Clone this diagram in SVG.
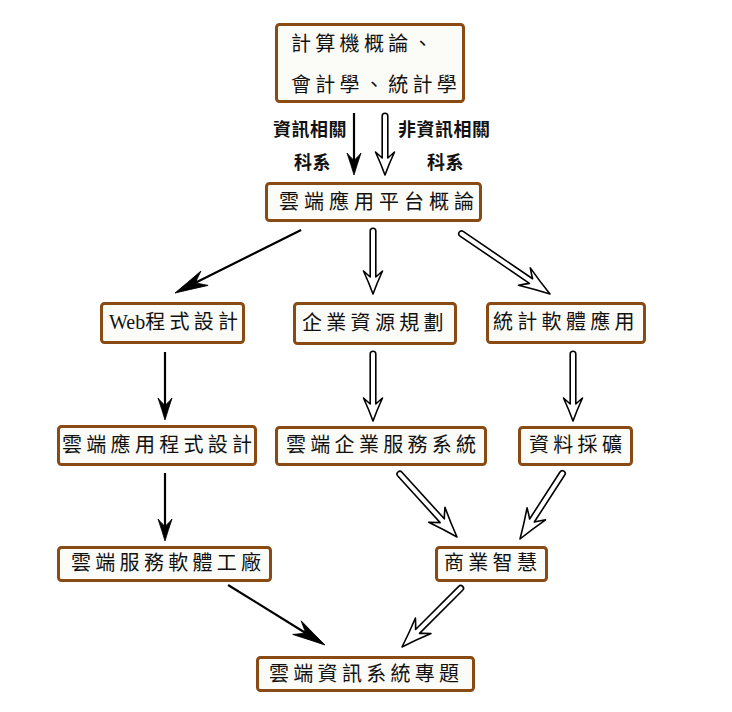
<svg xmlns="http://www.w3.org/2000/svg" width="732" height="712" viewBox="0 0 732 712">
<style>
.box{fill:#fbfbf7;stroke:#8a4a14;stroke-width:3}
.t{font-family:"Noto Sans CJK TC","Noto Sans CJK SC",sans-serif;font-size:20px;fill:#111;letter-spacing:4.3px}
.lbl{font-family:"Noto Sans CJK TC","Noto Sans CJK SC",sans-serif;font-size:18px;font-weight:bold;fill:#111;letter-spacing:0.5px}
.web{font-family:"Liberation Serif",serif;letter-spacing:0}
.sh{stroke:#000;stroke-width:2.2;fill:none}
.sd{fill:#000;stroke:#000;stroke-width:0.8;stroke-linejoin:round}
.ho{fill:#fff;stroke:#000;stroke-width:1.6;stroke-linejoin:round}
</style>
<rect width="732" height="712" fill="#fff"/>
<g id="connectors">
  <!-- solid arrows -->
  <g transform="translate(354,175) rotate(90)"><line class="sh" x1="-62" y1="0" x2="-14" y2="0"/><path class="sd" d="M0,0 Q-10,-3 -22,-7 Q-16,-2 -15,0 Q-16,2 -22,7 Q-10,3 0,0 Z"/></g>
  <g transform="translate(175,293) rotate(153.43)"><line class="sh" x1="-141" y1="0" x2="-20" y2="0"/><path class="sd" d="M0,0 Q-15,-3.5 -33,-8 Q-25,-2 -23,0 Q-25,2 -33,8 Q-15,3.5 0,0 Z"/></g>
  <g transform="translate(165,420) rotate(90)"><line class="sh" x1="-68" y1="0" x2="-14" y2="0"/><path class="sd" d="M0,0 Q-10,-3 -22,-7 Q-16,-2 -15,0 Q-16,2 -22,7 Q-10,3 0,0 Z"/></g>
  <g transform="translate(165,541) rotate(90)"><line class="sh" x1="-68" y1="0" x2="-14" y2="0"/><path class="sd" d="M0,0 Q-10,-3 -22,-7 Q-16,-2 -15,0 Q-16,2 -22,7 Q-10,3 0,0 Z"/></g>
  <g transform="translate(325,645) rotate(31.74)"><line class="sh" x1="-114" y1="0" x2="-20" y2="0"/><path class="sd" d="M0,0 Q-15,-3.5 -33,-8 Q-25,-2 -23,0 Q-25,2 -33,8 Q-15,3.5 0,0 Z"/></g>
  <!-- hollow arrows -->
  <path class="ho" transform="translate(385,175) rotate(90)" d="M-59,-2.8 L-17,-2.8 Q-19,-5 -23,-9.5 Q-11,-4 0,0 Q-11,4 -23,9.5 Q-19,5 -17,2.8 L-59,2.8 A2.8,2.8 0 0 1 -59,-2.8 Z"/>
  <path class="ho" transform="translate(373,294) rotate(90)" d="M-63,-2.8 L-17,-2.8 Q-19,-5 -23,-9.5 Q-11,-4 0,0 Q-11,4 -23,9.5 Q-19,5 -17,2.8 L-63,2.8 A2.8,2.8 0 0 1 -63,-2.8 Z"/>
  <path class="ho" transform="translate(550,294) rotate(34.27)" d="M-107,-2.8 L-23,-2.8 Q-26,-5.5 -31,-10.5 Q-15,-4.5 0,0 Q-15,4.5 -31,10.5 Q-26,5.5 -23,2.8 L-107,2.8 A2.8,2.8 0 0 1 -107,-2.8 Z"/>
  <path class="ho" transform="translate(373,421) rotate(90)" d="M-67,-2.8 L-17,-2.8 Q-19,-5 -23,-9.5 Q-11,-4 0,0 Q-11,4 -23,9.5 Q-19,5 -17,2.8 L-67,2.8 A2.8,2.8 0 0 1 -67,-2.8 Z"/>
  <path class="ho" transform="translate(573,421) rotate(90)" d="M-67,-2.8 L-17,-2.8 Q-19,-5 -23,-9.5 Q-11,-4 0,0 Q-11,4 -23,9.5 Q-19,5 -17,2.8 L-67,2.8 A2.8,2.8 0 0 1 -67,-2.8 Z"/>
  <path class="ho" transform="translate(457,537) rotate(47.77)" d="M-85,-2.8 L-22,-2.8 Q-25,-5.5 -30,-11 Q-14,-4.5 0,0 Q-14,4.5 -30,11 Q-25,5.5 -22,2.8 L-85,2.8 A2.8,2.8 0 0 1 -85,-2.8 Z"/>
  <path class="ho" transform="translate(520,539) rotate(122.91)" d="M-78,-2.8 L-22,-2.8 Q-25,-5.5 -30,-11 Q-14,-4.5 0,0 Q-14,4.5 -30,11 Q-25,5.5 -22,2.8 L-78,2.8 A2.8,2.8 0 0 1 -78,-2.8 Z"/>
  <path class="ho" transform="translate(402,647) rotate(135)" d="M-83,-2.8 L-22,-2.8 Q-25,-5.5 -30,-11 Q-14,-4.5 0,0 Q-14,4.5 -30,11 Q-25,5.5 -22,2.8 L-83,2.8 A2.8,2.8 0 0 1 -83,-2.8 Z"/>
  <!-- labels -->
  <text class="lbl" x="273" y="136">資訊相關</text>
  <text class="lbl" x="294" y="169">科系</text>
  <text class="lbl" x="398" y="136">非資訊相關</text>
  <text class="lbl" x="427" y="169">科系</text>
</g>
<g id="n-intro">
  <rect class="box" x="276.5" y="24.5" width="187" height="77" rx="3"/>
  <text class="t" x="291" y="51">計算機概論、</text>
  <text class="t" x="291" y="92">會計學、統計學</text>
</g>
<g id="n-platform">
  <rect class="box" x="266.5" y="183.5" width="214" height="37" rx="3"/>
  <text class="t" x="279" y="209" style="letter-spacing:5px">雲端應用平台概論</text>
</g>
<g id="n-web">
  <rect class="box" x="101.5" y="303.5" width="142" height="39" rx="3"/>
  <text class="t" x="109" y="329"><tspan class="web">Web</tspan>程式設計</text>
</g>
<g id="n-erp">
  <rect class="box" x="294.5" y="303.5" width="161" height="40" rx="3"/>
  <text class="t" x="302" y="330">企業資源規劃</text>
</g>
<g id="n-stat">
  <rect class="box" x="487.5" y="303.5" width="157" height="39" rx="3"/>
  <text class="t" x="493" y="329">統計軟體應用</text>
</g>
<g id="n-cloudapp">
  <rect class="box" x="58.5" y="426.5" width="197" height="38" rx="3"/>
  <text class="t" x="62" y="452">雲端應用程式設計</text>
</g>
<g id="n-cloudent">
  <rect class="box" x="276.5" y="427.5" width="209" height="37" rx="3"/>
  <text class="t" x="286" y="452">雲端企業服務系統</text>
</g>
<g id="n-mining">
  <rect class="box" x="519.5" y="427.5" width="112" height="37" rx="3"/>
  <text class="t" x="529" y="452">資料採礦</text>
</g>
<g id="n-factory">
  <rect class="box" x="58.5" y="547.5" width="212" height="33" rx="3"/>
  <text class="t" x="71" y="570">雲端服務軟體工廠</text>
</g>
<g id="n-bi">
  <rect class="box" x="436.5" y="547.5" width="110" height="33" rx="3"/>
  <text class="t" x="444" y="570">商業智慧</text>
</g>
<g id="n-project">
  <rect class="box" x="257.5" y="657.5" width="216" height="33" rx="3"/>
  <text class="t" x="269" y="681" style="letter-spacing:4.3px">雲端資訊系統專題</text>
</g>
</svg>
